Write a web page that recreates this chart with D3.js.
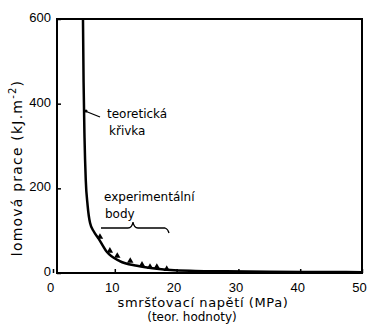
<!DOCTYPE html>
<html>
<head>
<meta charset="utf-8">
<script src="https://cdn.jsdelivr.net/npm/d3@7"></script>
<style>
  body { margin: 0; background: #fff; }
  svg { font-family: "DejaVu Sans", sans-serif; }
  .tick text { font-size: 13px; fill: #000; }
</style>
</head>
<body>
<svg id="chart" width="368" height="328"></svg>
<script>
// theoretical curve
let curveX = [4.85, 4.95, 5.1, 5.3, 5.6, 6.0, 6.6, 7.3, 8.7, 10.8, 13.6, 16.8, 19, 23, 28, 35, 42, 50];
let curveY = [600, 450, 320, 220, 160, 118, 98, 83, 50, 28, 17, 10, 7, 5, 4, 3, 2.5, 2];
// experimental points
let expX = [7.6, 9.2, 10.4, 12.5, 14.4, 15.7, 16.8, 18.4];
let expY = [83, 50, 38, 26, 17, 12, 12, 7];
let xTicks = [0, 10, 20, 30, 40, 50];
let yTicks = [0, 200, 400, 600];

let xScale = d3.scaleLinear().domain([0, 50]).range([53, 362]);
let yScale = d3.scaleLinear().domain([0, 600]).range([273, 19]);
let axisX = 57;

let svg = d3.select('#chart');

// frame
svg.append('rect')
  .attr('x', axisX).attr('y', yScale(600))
  .attr('width', xScale(50) - axisX).attr('height', yScale(0) - yScale(600))
  .attr('fill', 'none').attr('stroke', '#000').attr('stroke-width', 2);

let gx = svg.append('g')
  .attr('transform', 'translate(0,' + yScale(0) + ')')
  .call(d3.axisBottom(xScale).tickValues(xTicks).tickSizeInner(-4).tickSizeOuter(0).tickPadding(10));
gx.select('.domain').remove();
gx.selectAll('.tick line').attr('stroke-width', 1.5);
gx.selectAll('.tick text').attr('dx', -3);

let gy = svg.append('g')
  .attr('transform', 'translate(' + axisX + ',0)')
  .call(d3.axisLeft(yScale).tickValues(yTicks).tickSizeInner(-4).tickSizeOuter(0).tickPadding(6));
gy.select('.domain').remove();
gy.selectAll('.tick line').attr('stroke-width', 1.5);
gy.selectAll('.tick text').attr('dy', '0.2em');

// theoretical curve
let curve = curveX.map(function(d, i) { return [d, curveY[i]]; });
let line = d3.line()
  .x(function(d) { return xScale(d[0]); })
  .y(function(d) { return yScale(d[1]); })
  .curve(d3.curveMonotoneX);
svg.append('path')
  .attr('d', line(curve))
  .attr('fill', 'none').attr('stroke', '#000').attr('stroke-width', 2.5);

// experimental points
svg.selectAll('.pt')
  .data(expX)
  .join('path')
  .attr('class', 'pt')
  .attr('transform', function(d, i) { return 'translate(' + xScale(d) + ',' + (yScale(expY[i]) - 1) + ')'; })
  .attr('d', d3.symbol().type(d3.symbolTriangle).size(18))
  .attr('fill', '#000');

// annotations
svg.append('line')
  .attr('x1', 85).attr('y1', 111).attr('x2', 100).attr('y2', 117)
  .attr('stroke', '#000').attr('stroke-width', 1.3);
svg.append('circle').attr('cx', 86).attr('cy', 111).attr('r', 1.6).attr('fill', '#000');
svg.append('text').attr('x', 107).attr('y', 118).attr('font-size', 12).text('teoretická');
svg.append('text').attr('x', 109).attr('y', 135).attr('font-size', 12).text('křivka');

svg.append('text').attr('x', 104).attr('y', 201).attr('font-size', 12).text('experimentální');
svg.append('text').attr('x', 105).attr('y', 218).attr('font-size', 12).text('body');
svg.append('path')
  .attr('d', 'M101,228 L128,228 Q132,228 133,222 Q134,228 138,228 L165,228 Q168,229 169,233')
  .attr('fill', 'none').attr('stroke', '#000').attr('stroke-width', 1.3);

// axis titles
svg.append('text')
  .attr('transform', 'translate(22,' + 168 + ') rotate(-90)')
  .attr('text-anchor', 'middle').attr('font-size', 14).attr('letter-spacing', 1.2)
  .html('lomová prace (kJ.m<tspan dy="-6" font-size="10">-2</tspan><tspan dy="6">)</tspan>');
svg.append('text')
  .attr('x', 203).attr('y', 307).attr('text-anchor', 'middle').attr('font-size', 13)
  .attr('letter-spacing', 0.6)
  .text('smršťovací napětí (MPa)');
svg.append('text')
  .attr('x', 192).attr('y', 321).attr('text-anchor', 'middle').attr('font-size', 12)
  .text('(teor. hodnoty)');
</script>
</body>
</html>
